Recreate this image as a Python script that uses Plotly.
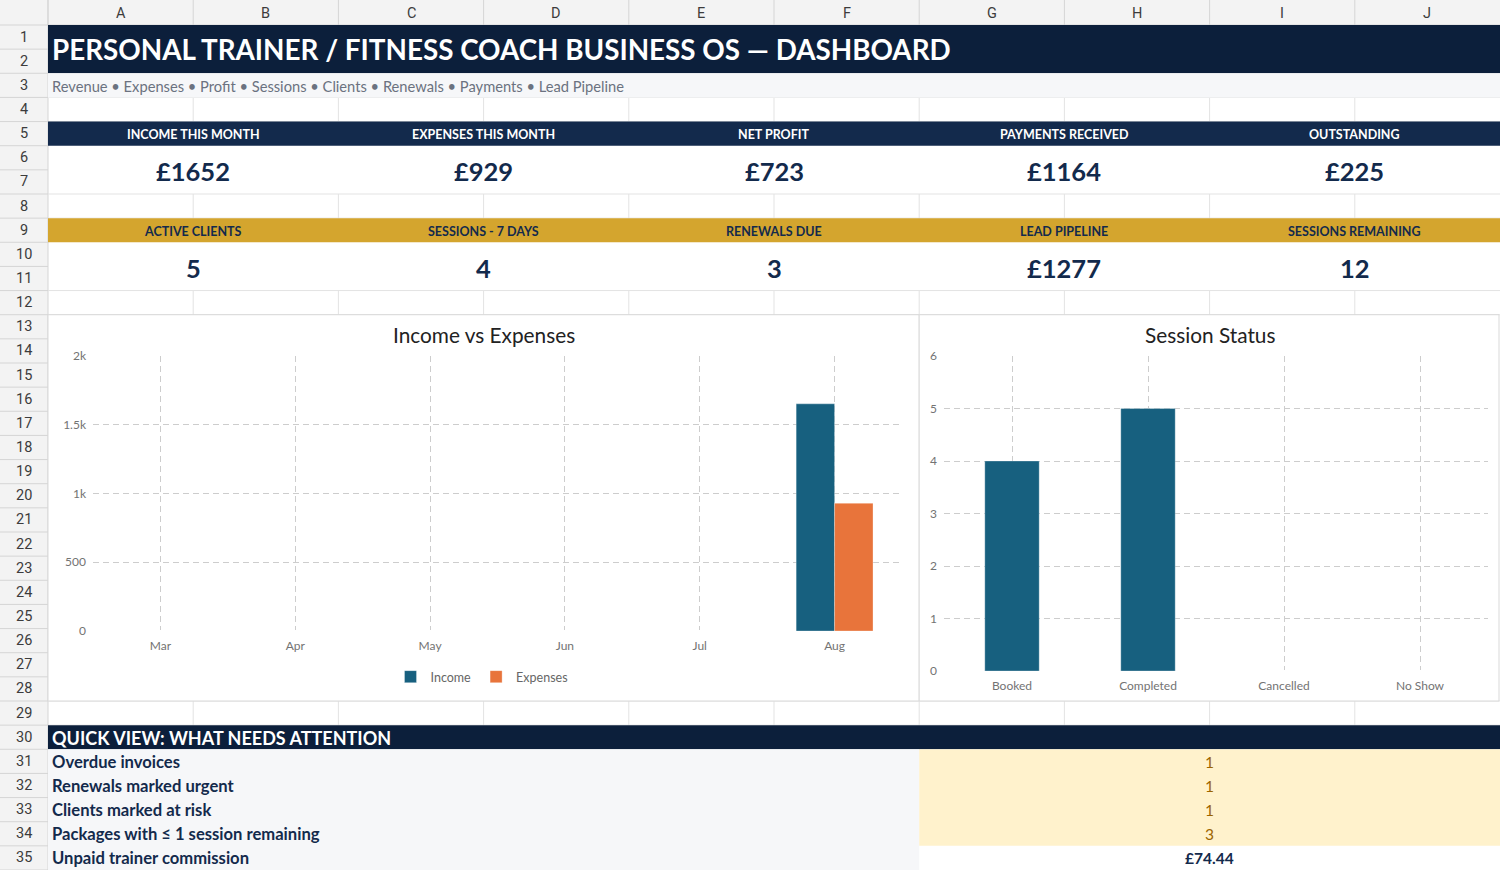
import plotly.graph_objects as go

W, H = 1500, 870

# ---- data ----
months = ["Mar", "Apr", "May", "Jun", "Jul", "Aug"]
income = [0, 0, 0, 0, 0, 1652]
expenses = [0, 0, 0, 0, 0, 929]

session_status = ["Booked", "Completed", "Cancelled", "No Show"]
session_counts = [4, 5, 0, 0]

kpi1_labels = ["INCOME THIS MONTH", "EXPENSES THIS MONTH", "NET PROFIT", "PAYMENTS RECEIVED", "OUTSTANDING"]
kpi1_values = ["£1652", "£929", "£723", "£1164", "£225"]
kpi2_labels = ["ACTIVE CLIENTS", "SESSIONS - 7 DAYS", "RENEWALS DUE", "LEAD PIPELINE", "SESSIONS REMAINING"]
kpi2_values = ["5", "4", "3", "£1277", "12"]

attention_labels = ["Overdue invoices", "Renewals marked urgent", "Clients marked at risk",
                    "Packages with ≤ 1 session remaining", "Unpaid trainer commission"]
attention_values = ["1", "1", "1", "3", "£74.44"]

col_letters = ["A", "B", "C", "D", "E", "F", "G", "H", "I", "J"]
row_numbers = list(range(1, 36))

title_text = "PERSONAL TRAINER / FITNESS COACH BUSINESS OS — DASHBOARD"
subtitle_text = "Revenue • Expenses • Profit • Sessions • Clients • Renewals • Payments • Lead Pipeline"

# ---- colours ----
NAVY = "#0c1f3b"
NAVY2 = "#132a4c"
GOLD = "#d4a52e"
GRID = "#e3e3e3"
HDR_BG = "#f3f3f3"
HDR_LINE = "#d5d5d5"
FONT = "Lato"

# sheet geometry (pixels)
ROW0, ROWH = 25, (870 - 25) / 35
COL0, COLW = 48, (1500 - 48) / 10


def X(px):
    return px / W


def Y(py):
    return 1 - py / H


def rtop(n):
    return ROW0 + (n - 1) * ROWH


def cleft(i):
    return COL0 + i * COLW


shapes = []
annotations = []


def rect(x0, y0, x1, y1, fill, line=None, width=1):
    shapes.append(dict(type="rect", xref="paper", yref="paper",
                       x0=X(x0), x1=X(x1), y0=Y(y1), y1=Y(y0),
                       fillcolor=fill, layer="below",
                       line=dict(color=line or fill, width=width if line else 0)))


def hline(x0, x1, y, color=GRID):
    shapes.append(dict(type="line", xref="paper", yref="paper",
                       x0=X(x0), x1=X(x1), y0=Y(y), y1=Y(y),
                       line=dict(color=color, width=1), layer="below"))


def vline(x, y0, y1, color=GRID):
    shapes.append(dict(type="line", xref="paper", yref="paper",
                       x0=X(x), x1=X(x), y0=Y(y0), y1=Y(y1),
                       line=dict(color=color, width=1), layer="below"))


def text(x, y, s, size, color, bold=False, anchor="center", family=FONT):
    annotations.append(dict(xref="paper", yref="paper", x=X(x), y=Y(y),
                            text=f"<b>{s}</b>" if bold else s, showarrow=False,
                            xanchor=anchor, yanchor="middle",
                            font=dict(family=family, size=size, color=color)))


# ---- headers of the sheet ----
rect(0, 0, W, ROW0, HDR_BG)
rect(0, 0, COL0, H, HDR_BG)
hline(0, W, ROW0, HDR_LINE)
vline(COL0, 0, H, HDR_LINE)
for i, c in enumerate(col_letters):
    vline(cleft(i), 0, ROW0, HDR_LINE)
    text(cleft(i) + COLW / 2, ROW0 / 2 + 1, c, 14.5, "#3c3c3c", family="Roboto")
for n in row_numbers:
    hline(0, COL0, rtop(n + 1), HDR_LINE)
    text(COL0 / 2, rtop(n) + ROWH / 2, str(n), 14.5, "#3c3c3c", family="Roboto")

# ---- blank rows grid ----
for n in [4, 8, 12, 29]:
    hline(COL0, W, rtop(n))
    hline(COL0, W, rtop(n + 1))
    for i in range(1, 10):
        vline(cleft(i), rtop(n), rtop(n + 1))

# ---- title band ----
rect(COL0, rtop(1), W, rtop(3), NAVY)
text(50, rtop(2), title_text, 27.8, "white", bold=True, anchor="left")
rect(COL0, rtop(3), W, rtop(4), "#f6f7f9")
text(50, rtop(3) + ROWH / 2 + 1, subtitle_text, 14.7, "#6b7280", anchor="left")

# ---- KPI rows ----
rect(COL0, rtop(5), W, rtop(6), NAVY2)
rect(COL0, rtop(9), W, rtop(10), GOLD)
for k in range(5):
    cx = cleft(2 * k) + COLW
    text(cx, rtop(5) + ROWH / 2 + 1, kpi1_labels[k], 12.5, "white", bold=True)
    text(cx, rtop(7) + 1.5, kpi1_values[k], 25.5, NAVY2, bold=True)
    text(cx, rtop(9) + ROWH / 2 + 1, kpi2_labels[k], 12.5, NAVY2, bold=True)
    text(cx, rtop(11) + 1.5, kpi2_values[k], 25.5, NAVY2, bold=True)

# ---- chart frames ----
rect(COL0, rtop(13), cleft(6), rtop(29), "white", "#d9d9d9")
rect(cleft(6), rtop(13), W - 1, rtop(29), "white", "#d9d9d9")
text((COL0 + cleft(6)) / 2, 334.5, "Income vs Expenses", 20.8, "#222222")
text((cleft(6) + W) / 2, 334.5, "Session Status", 20.8, "#222222")

# ---- quick view ----
rect(COL0, rtop(30), W, rtop(31), NAVY)
text(50, rtop(30) + ROWH / 2 + 1, "QUICK VIEW: WHAT NEEDS ATTENTION", 18, "white", bold=True, anchor="left")
rect(COL0, rtop(31), cleft(6), H, "#f6f7f9")
rect(cleft(6), rtop(31), W, rtop(35), "#fff2cc")
for j, (lab, val) in enumerate(zip(attention_labels, attention_values)):
    cy = rtop(31 + j) + ROWH / 2 + 0.5
    text(50, cy, lab, 16.6, NAVY2, bold=True, anchor="left")
    last = j == len(attention_values) - 1
    text(cleft(6) + 2 * COLW, cy, val, 15.5, NAVY2 if last else "#9c6500", bold=last)

# ---- charts ----
fig = go.Figure()
edge = dict(color="rgba(255,255,255,0.6)", width=0.5)
fig.add_trace(go.Bar(x=months, y=income, name="Income", marker=dict(color="#17607f", line=edge),
                     xaxis="x", yaxis="y"))
fig.add_trace(go.Bar(x=months, y=expenses, name="Expenses", marker=dict(color="#e8743b", line=edge),
                     xaxis="x", yaxis="y"))
fig.add_trace(go.Bar(x=session_status, y=session_counts, name="Sessions",
                     marker=dict(color="#17607f", line=edge),
                     width=0.4, showlegend=False, xaxis="x2", yaxis="y2"))

axis_font = dict(family=FONT, size=12, color="#737373")
grid = dict(showgrid=True, gridcolor="#cdcdcd", griddash="6px,4px", gridwidth=1,
            zeroline=True, zerolinecolor="white", zerolinewidth=2,
            showline=False, tickfont=axis_font, ticks="", automargin=False)

fig.update_layout(
    width=W, height=H,
    margin=dict(l=0, r=0, t=0, b=0, pad=0, autoexpand=False),
    paper_bgcolor="white", plot_bgcolor="rgba(0,0,0,0)",
    barmode="group", bargap=0.43, bargroupgap=0,
    shapes=shapes, annotations=annotations,
    showlegend=True,
    legend=dict(orientation="h", x=X(482), y=Y(677), xanchor="center", yanchor="middle",
                itemwidth=30, font=dict(family=FONT, size=12.5, color="#666666"),
                bgcolor="rgba(0,0,0,0)"),
    xaxis=dict(domain=[X(93), X(902)], type="category", ticklabelstandoff=6, **grid),
    yaxis=dict(domain=[Y(631), Y(356)], range=[0, 2000], tickvals=[0, 500, 1000, 1500, 2000],
               tickformat="~s", ticklabelstandoff=6, **grid),
    xaxis2=dict(domain=[X(944), X(1488)], type="category", anchor="y2", ticklabelstandoff=6, **grid),
    yaxis2=dict(domain=[Y(671), Y(356)], range=[0, 6], dtick=1, anchor="x2",
                ticklabelstandoff=6, **grid),
)

fig.write_html("out.html", config={"displayModeBar": False},
               post_script="document.body.style.margin='0';document.body.style.overflow='hidden';")
